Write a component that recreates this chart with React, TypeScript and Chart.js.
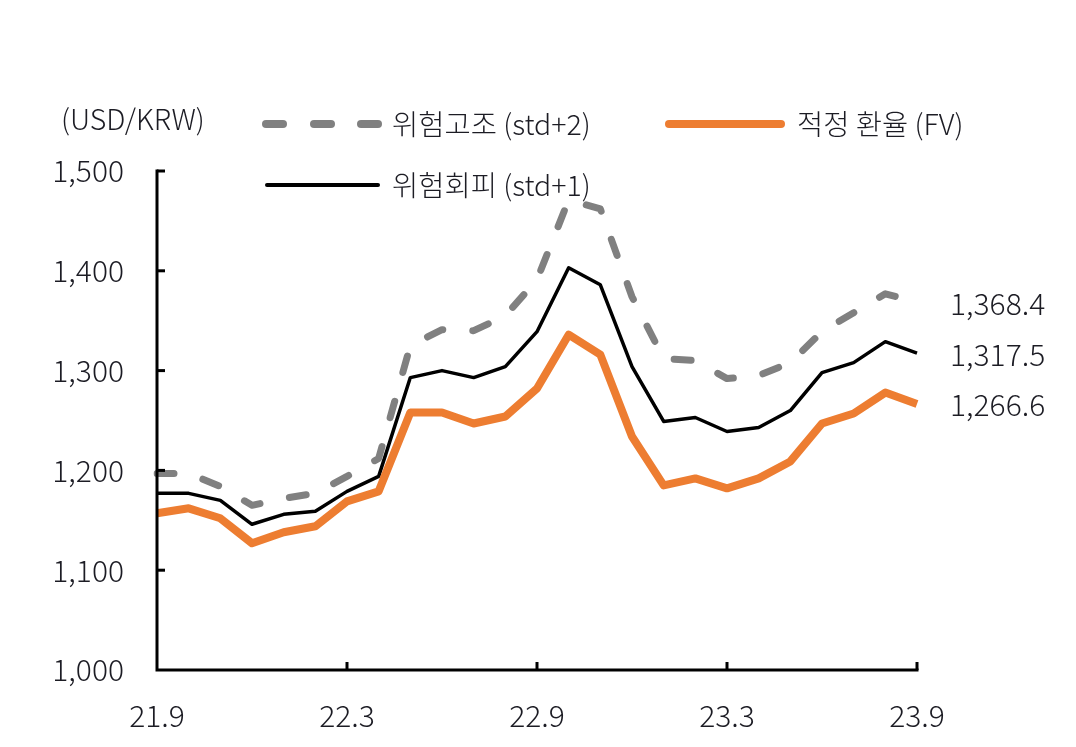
import React, { useEffect, useRef } from "react";
import { Chart, registerables } from "chart.js";

Chart.register(...registerables);

const months: string[] = [
  "21.9", "21.10", "21.11", "21.12", "22.1", "22.2", "22.3", "22.4", "22.5",
  "22.6", "22.7", "22.8", "22.9", "22.10", "22.11", "22.12", "23.1", "23.2",
  "23.3", "23.4", "23.5", "23.6", "23.7", "23.8", "23.9",
];

const riskHigh: number[] = [
  1197, 1197, 1184, 1165, 1172, 1177, 1194, 1212, 1325, 1341, 1340, 1355, 1391,
  1471, 1462, 1374, 1312, 1310, 1292, 1295, 1308, 1339, 1358, 1377, 1368.4,
];

const riskAvoid: number[] = [
  1177, 1177, 1170, 1146, 1156, 1159, 1179, 1194, 1293, 1300, 1293, 1304, 1339,
  1403, 1386, 1304, 1249, 1253, 1239, 1243, 1260, 1298, 1308, 1329, 1317.5,
];

const fairValue: number[] = [
  1157, 1162, 1152, 1127, 1138, 1144, 1169, 1179, 1258, 1258, 1247, 1254, 1282,
  1336, 1316, 1234, 1185, 1192, 1182, 1192, 1209, 1247, 1257, 1278, 1266.6,
];

const endLabels: string[] = ["1,368.4", "1,317.5", "1,266.6"];

const seriesNames: string[] = ["위험고조 (std+2)", "적정 환율 (FV)", "위험회피 (std+1)"];

const FONT = '"Noto Sans CJK KR", "Noto Sans", sans-serif';
const TEXT = "#1c1c24";
const GRAY = "#808080";
const ORANGE = "#ED7D31";
const NUM_SIZE = 30;
const TXT_SIZE = 28.5;

export default function App() {
  const ref = useRef<HTMLCanvasElement | null>(null);

  useEffect(() => {
    if (!ref.current) return;

    const axesPlugin = {
      id: "axesPlugin",
      afterDatasetsDraw(chart: any) {
        const ctx = chart.ctx;
        const x = chart.scales.x;
        const y = chart.scales.y;
        const left = chart.chartArea.left;
        const right = chart.chartArea.right;
        const top = y.getPixelForValue(1500);
        const bottom = y.getPixelForValue(1000);
        ctx.save();
        ctx.strokeStyle = "#000";
        ctx.lineWidth = 3;
        ctx.lineCap = "butt";
        ctx.beginPath();
        ctx.moveTo(left, top - 1.5);
        ctx.lineTo(left, bottom);
        ctx.lineTo(right + 1.5, bottom);
        ctx.stroke();
        for (let v = 1100; v <= 1500; v += 100) {
          const py = y.getPixelForValue(v);
          ctx.beginPath();
          ctx.moveTo(left, py);
          ctx.lineTo(left + 8, py);
          ctx.stroke();
        }
        for (let i = 6; i < months.length; i += 6) {
          const px = x.getPixelForValue(i);
          ctx.beginPath();
          ctx.moveTo(px, bottom);
          ctx.lineTo(px, bottom - 8);
          ctx.stroke();
        }
        ctx.fillStyle = TEXT;
        ctx.font = `300 ${NUM_SIZE}px ${FONT}`;
        ctx.textBaseline = "middle";
        ctx.textAlign = "left";
        const last = months.length - 1;
        const vals = [riskHigh[last], riskAvoid[last], fairValue[last]];
        vals.forEach((v, k) => {
          ctx.fillText(endLabels[k], right + 33, y.getPixelForValue(v) + 1);
        });
        ctx.restore();
      },
    };

    const chart = new Chart(ref.current, {
      type: "line",
      data: {
        labels: months,
        datasets: [
          {
            label: seriesNames[0],
            data: riskHigh,
            borderColor: GRAY,
            borderWidth: 7,
            borderDash: [17, 30],
            borderCapStyle: "round",
            borderJoinStyle: "round",
            pointRadius: 0,
            tension: 0,
            fill: false,
            order: 1,
          },
          {
            label: seriesNames[1],
            data: fairValue,
            borderColor: ORANGE,
            borderWidth: 8,
            borderJoinStyle: "round",
            pointRadius: 0,
            tension: 0,
            fill: false,
            order: 2,
          },
          {
            label: seriesNames[2],
            data: riskAvoid,
            borderColor: "#000",
            borderWidth: 3.5,
            borderJoinStyle: "round",
            pointRadius: 0,
            tension: 0,
            fill: false,
            order: 3,
          },
        ],
      },
      options: {
        animation: false,
        responsive: false,
        maintainAspectRatio: false,
        layout: { padding: { left: 0, right: 159, top: 171, bottom: 0 } },
        plugins: {
          legend: { display: false },
          tooltip: { enabled: false },
        },
        scales: {
          x: {
            type: "category",
            grid: { display: false, drawTicks: false },
            border: { display: false },
            ticks: {
              autoSkip: false,
              maxRotation: 0,
              padding: 28,
              color: TEXT,
              font: { family: FONT, size: NUM_SIZE, weight: "300" },
              callback: (_v: any, i: number) => (i % 6 === 0 ? months[i] : null),
            },
            afterFit: (s: any) => {
              s.height = 77;
            },
          },
          y: {
            min: 1000,
            max: 1500,
            grid: { display: false, drawTicks: false },
            border: { display: false },
            ticks: {
              stepSize: 100,
              padding: 33,
              color: TEXT,
              font: { family: FONT, size: NUM_SIZE, weight: "300" },
              callback: (v: any) => Number(v).toLocaleString("en-US"),
            },
            afterFit: (s: any) => {
              s.width = 157;
            },
          },
        },
      },
      plugins: [axesPlugin],
    });

    return () => chart.destroy();
  }, []);

  const textStyle: React.CSSProperties = {
    position: "absolute",
    fontFamily: FONT,
    fontWeight: 300,
    fontSize: TXT_SIZE,
    color: TEXT,
    lineHeight: "36px",
    whiteSpace: "nowrap",
  };

  const dash = (left: number): React.CSSProperties => ({
    position: "absolute",
    left,
    top: 120,
    width: 25,
    height: 8,
    borderRadius: 4,
    background: GRAY,
  });

  return (
    <div
      style={{
        position: "absolute",
        left: 0,
        top: 0,
        width: 1076,
        height: 747,
        background: "#fff",
        overflow: "hidden",
      }}
    >
      <canvas ref={ref} width={1076} height={747} style={{ width: 1076, height: 747, display: "block" }} />
      <div style={{ ...textStyle, left: 61, top: 100 }}>(USD/KRW)</div>

      <div style={dash(262)} />
      <div style={dash(310)} />
      <div style={dash(357)} />
      <div style={{ ...textStyle, left: 392, top: 105 }}>{seriesNames[0]}</div>

      <div
        style={{
          position: "absolute",
          left: 665,
          top: 120,
          width: 120,
          height: 8,
          borderRadius: 4,
          background: ORANGE,
        }}
      />
      <div style={{ ...textStyle, left: 797, top: 105 }}>{seriesNames[1]}</div>

      <div
        style={{
          position: "absolute",
          left: 265,
          top: 183,
          width: 115,
          height: 4,
          borderRadius: 2,
          background: "#000",
        }}
      />
      <div style={{ ...textStyle, left: 392, top: 166 }}>{seriesNames[2]}</div>
    </div>
  );
}
